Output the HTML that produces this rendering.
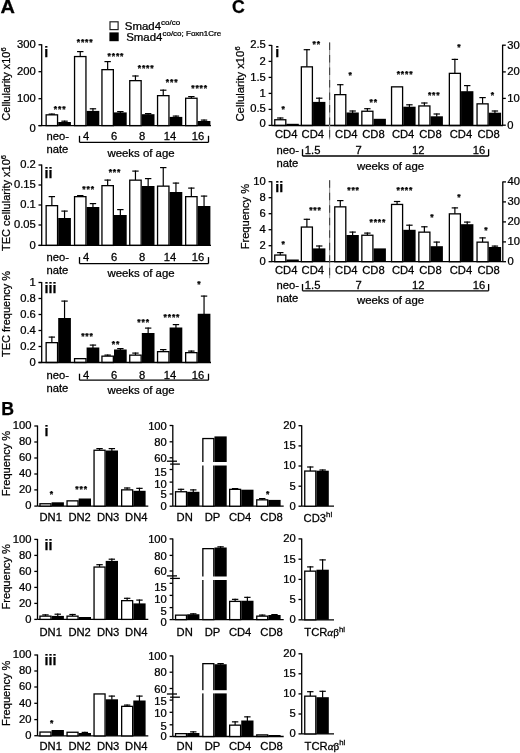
<!DOCTYPE html>
<html><head><meta charset="utf-8"><style>
html,body{margin:0;padding:0;background:#fff;}
svg{display:block;}
text{font-family:"Liberation Sans", Arial, sans-serif;fill:#000;stroke:#000;stroke-width:0.25px;}
</style></head><body>
<svg width="520" height="753" viewBox="0 0 520 753">
<rect width="520" height="753" fill="#fff"/>
<text transform="translate(0.50,12.70) scale(1.13,1)" font-size="17.7" font-weight="bold" >A</text>
<rect x="110.0" y="21.8" width="8.1" height="7.8" fill="#fff" stroke="#222" stroke-width="1.2"/>
<rect x="109.4" y="32.4" width="9.3" height="8.8" fill="#000"/>
<text transform="translate(124.80,30.20) scale(1.1,1)" font-size="10.4" >Smad4<tspan font-size="7.3" dy="-5">co/co</tspan></text>
<text transform="translate(126.20,40.70) scale(1.1,1)" font-size="10.4" >Smad4<tspan font-size="7.3" dy="-5">co/co; Foxn1Cre</tspan></text>
<line x1="41.70" y1="44.25" x2="41.70" y2="125.60" stroke="#000" stroke-width="1.3" />
<line x1="38.50" y1="44.75" x2="41.70" y2="44.75" stroke="#000" stroke-width="1.3" />
<text transform="translate(35.75,47.55) scale(1.1,1)" font-size="10.2" text-anchor="end" >300</text>
<line x1="38.50" y1="71.70" x2="41.70" y2="71.70" stroke="#000" stroke-width="1.3" />
<text transform="translate(35.75,75.00) scale(1.1,1)" font-size="10.2" text-anchor="end" >200</text>
<line x1="38.50" y1="98.70" x2="41.70" y2="98.70" stroke="#000" stroke-width="1.3" />
<text transform="translate(35.75,102.00) scale(1.1,1)" font-size="10.2" text-anchor="end" >100</text>
<line x1="38.50" y1="125.60" x2="41.70" y2="125.60" stroke="#000" stroke-width="1.3" />
<text transform="translate(35.75,131.65) scale(1.1,1)" font-size="10.2" text-anchor="end" >0</text>
<text x="44.30" y="56.50" font-size="14.3" font-weight="bold" >i</text>
<text transform="translate(9.5,84) rotate(-90)" font-size="11" text-anchor="middle">Cellularity x10<tspan font-size="7.5" dy="-4">6</tspan></text>
<rect x="46.15" y="114.85" width="11.40" height="10.75" fill="#fff" stroke="#000" stroke-width="1.3"/>
<line x1="51.85" y1="113.50" x2="51.85" y2="114.70" stroke="#000" stroke-width="1.2" />
<line x1="48.65" y1="114.10" x2="55.05" y2="114.10" stroke="#000" stroke-width="1.2" />
<rect x="58.20" y="122.00" width="12.70" height="3.60" fill="#000"/>
<line x1="64.55" y1="120.60" x2="64.55" y2="122.50" stroke="#000" stroke-width="1.2" />
<line x1="61.35" y1="121.20" x2="67.75" y2="121.20" stroke="#000" stroke-width="1.2" />
<rect x="74.55" y="56.55" width="11.40" height="69.05" fill="#fff" stroke="#000" stroke-width="1.3"/>
<line x1="80.25" y1="51.00" x2="80.25" y2="56.40" stroke="#000" stroke-width="1.2" />
<line x1="77.05" y1="51.60" x2="83.45" y2="51.60" stroke="#000" stroke-width="1.2" />
<rect x="86.60" y="110.90" width="12.70" height="14.70" fill="#000"/>
<line x1="92.95" y1="108.20" x2="92.95" y2="111.40" stroke="#000" stroke-width="1.2" />
<line x1="89.75" y1="108.80" x2="96.15" y2="108.80" stroke="#000" stroke-width="1.2" />
<rect x="101.95" y="69.65" width="11.40" height="55.95" fill="#fff" stroke="#000" stroke-width="1.3"/>
<line x1="107.65" y1="61.00" x2="107.65" y2="69.50" stroke="#000" stroke-width="1.2" />
<line x1="104.45" y1="61.60" x2="110.85" y2="61.60" stroke="#000" stroke-width="1.2" />
<rect x="114.00" y="112.40" width="12.70" height="13.20" fill="#000"/>
<line x1="120.35" y1="111.00" x2="120.35" y2="112.90" stroke="#000" stroke-width="1.2" />
<line x1="117.15" y1="111.60" x2="123.55" y2="111.60" stroke="#000" stroke-width="1.2" />
<rect x="129.75" y="80.65" width="11.40" height="44.95" fill="#fff" stroke="#000" stroke-width="1.3"/>
<line x1="135.45" y1="75.40" x2="135.45" y2="80.50" stroke="#000" stroke-width="1.2" />
<line x1="132.25" y1="76.00" x2="138.65" y2="76.00" stroke="#000" stroke-width="1.2" />
<rect x="141.80" y="114.20" width="12.70" height="11.40" fill="#000"/>
<line x1="148.15" y1="113.00" x2="148.15" y2="114.70" stroke="#000" stroke-width="1.2" />
<line x1="144.95" y1="113.60" x2="151.35" y2="113.60" stroke="#000" stroke-width="1.2" />
<rect x="157.55" y="95.65" width="11.40" height="29.95" fill="#fff" stroke="#000" stroke-width="1.3"/>
<line x1="163.25" y1="89.60" x2="163.25" y2="95.50" stroke="#000" stroke-width="1.2" />
<line x1="160.05" y1="90.20" x2="166.45" y2="90.20" stroke="#000" stroke-width="1.2" />
<rect x="169.60" y="116.90" width="12.70" height="8.70" fill="#000"/>
<line x1="175.95" y1="115.50" x2="175.95" y2="117.40" stroke="#000" stroke-width="1.2" />
<line x1="172.75" y1="116.10" x2="179.15" y2="116.10" stroke="#000" stroke-width="1.2" />
<rect x="185.65" y="98.25" width="11.40" height="27.35" fill="#fff" stroke="#000" stroke-width="1.3"/>
<line x1="191.35" y1="96.00" x2="191.35" y2="98.10" stroke="#000" stroke-width="1.2" />
<line x1="188.15" y1="96.60" x2="194.55" y2="96.60" stroke="#000" stroke-width="1.2" />
<rect x="197.70" y="121.00" width="12.70" height="4.60" fill="#000"/>
<line x1="204.05" y1="119.50" x2="204.05" y2="121.50" stroke="#000" stroke-width="1.2" />
<line x1="200.85" y1="120.10" x2="207.25" y2="120.10" stroke="#000" stroke-width="1.2" />
<text x="60.13" y="111.51" font-size="8.6" text-anchor="middle" font-weight="bold" letter-spacing="0.85">***</text>
<text x="85.13" y="45.41" font-size="8.6" text-anchor="middle" font-weight="bold" letter-spacing="0.85">****</text>
<text x="115.93" y="59.31" font-size="8.6" text-anchor="middle" font-weight="bold" letter-spacing="0.85">****</text>
<text x="146.13" y="71.21" font-size="8.6" text-anchor="middle" font-weight="bold" letter-spacing="0.85">****</text>
<text x="172.13" y="84.71" font-size="8.6" text-anchor="middle" font-weight="bold" letter-spacing="0.85">***</text>
<text x="199.63" y="91.21" font-size="8.6" text-anchor="middle" font-weight="bold" letter-spacing="0.85">****</text>
<line x1="38.50" y1="125.60" x2="211.00" y2="125.60" stroke="#000" stroke-width="1.3" />
<text transform="translate(46.50,139.50) scale(1.08,1)" font-size="10.4" >neo-</text>
<text transform="translate(46.50,152.50) scale(1.08,1)" font-size="10.4" >nate</text>
<text transform="translate(86.00,139.50) scale(1.08,1)" font-size="10.4" text-anchor="middle" >4</text>
<text transform="translate(114.00,139.50) scale(1.08,1)" font-size="10.4" text-anchor="middle" >6</text>
<text transform="translate(142.00,139.50) scale(1.08,1)" font-size="10.4" text-anchor="middle" >8</text>
<text transform="translate(170.00,139.50) scale(1.08,1)" font-size="10.4" text-anchor="middle" >14</text>
<text transform="translate(198.00,139.50) scale(1.08,1)" font-size="10.4" text-anchor="middle" >16</text>
<line x1="79.50" y1="135.80" x2="79.50" y2="142.30" stroke="#000" stroke-width="1.3" />
<line x1="79.50" y1="142.30" x2="208.50" y2="142.30" stroke="#000" stroke-width="1.3" />
<line x1="208.50" y1="135.80" x2="208.50" y2="142.30" stroke="#000" stroke-width="1.3" />
<text transform="translate(141.00,156.70) scale(1.12,1)" font-size="10.2" text-anchor="middle" >weeks of age</text>
<line x1="41.70" y1="164.50" x2="41.70" y2="245.40" stroke="#000" stroke-width="1.3" />
<line x1="38.50" y1="165.00" x2="41.70" y2="165.00" stroke="#000" stroke-width="1.3" />
<text transform="translate(35.75,168.30) scale(1.1,1)" font-size="10.2" text-anchor="end" >0.2</text>
<line x1="38.50" y1="185.00" x2="41.70" y2="185.00" stroke="#000" stroke-width="1.3" />
<text transform="translate(35.75,188.30) scale(1.1,1)" font-size="10.2" text-anchor="end" >0.15</text>
<line x1="38.50" y1="205.00" x2="41.70" y2="205.00" stroke="#000" stroke-width="1.3" />
<text transform="translate(35.75,208.30) scale(1.1,1)" font-size="10.2" text-anchor="end" >0.1</text>
<line x1="38.50" y1="225.00" x2="41.70" y2="225.00" stroke="#000" stroke-width="1.3" />
<text transform="translate(35.75,228.30) scale(1.1,1)" font-size="10.2" text-anchor="end" >0.05</text>
<line x1="38.50" y1="245.40" x2="41.70" y2="245.40" stroke="#000" stroke-width="1.3" />
<text transform="translate(35.75,249.45) scale(1.1,1)" font-size="10.2" text-anchor="end" >0</text>
<text x="44.50" y="177.90" font-size="14.3" font-weight="bold" >ii</text>
<text transform="translate(9.5,203) rotate(-90)" font-size="11" text-anchor="middle">TEC cellularity x10<tspan font-size="7.5" dy="-4">6</tspan></text>
<rect x="46.15" y="205.65" width="11.40" height="39.75" fill="#fff" stroke="#000" stroke-width="1.3"/>
<line x1="51.85" y1="196.00" x2="51.85" y2="205.50" stroke="#000" stroke-width="1.2" />
<line x1="48.65" y1="196.60" x2="55.05" y2="196.60" stroke="#000" stroke-width="1.2" />
<rect x="58.20" y="218.00" width="12.70" height="27.40" fill="#000"/>
<line x1="64.55" y1="210.50" x2="64.55" y2="218.50" stroke="#000" stroke-width="1.2" />
<line x1="61.35" y1="211.10" x2="67.75" y2="211.10" stroke="#000" stroke-width="1.2" />
<rect x="74.55" y="196.65" width="11.40" height="48.75" fill="#fff" stroke="#000" stroke-width="1.3"/>
<line x1="80.25" y1="195.00" x2="80.25" y2="196.50" stroke="#000" stroke-width="1.2" />
<line x1="77.05" y1="195.60" x2="83.45" y2="195.60" stroke="#000" stroke-width="1.2" />
<rect x="86.60" y="207.00" width="12.70" height="38.40" fill="#000"/>
<line x1="92.95" y1="203.00" x2="92.95" y2="207.50" stroke="#000" stroke-width="1.2" />
<line x1="89.75" y1="203.60" x2="96.15" y2="203.60" stroke="#000" stroke-width="1.2" />
<rect x="101.95" y="185.65" width="11.40" height="59.75" fill="#fff" stroke="#000" stroke-width="1.3"/>
<line x1="107.65" y1="179.50" x2="107.65" y2="185.50" stroke="#000" stroke-width="1.2" />
<line x1="104.45" y1="180.10" x2="110.85" y2="180.10" stroke="#000" stroke-width="1.2" />
<rect x="114.00" y="215.00" width="12.70" height="30.40" fill="#000"/>
<line x1="120.35" y1="209.00" x2="120.35" y2="215.50" stroke="#000" stroke-width="1.2" />
<line x1="117.15" y1="209.60" x2="123.55" y2="209.60" stroke="#000" stroke-width="1.2" />
<rect x="129.75" y="180.15" width="11.40" height="65.25" fill="#fff" stroke="#000" stroke-width="1.3"/>
<line x1="135.45" y1="170.50" x2="135.45" y2="180.00" stroke="#000" stroke-width="1.2" />
<line x1="132.25" y1="171.10" x2="138.65" y2="171.10" stroke="#000" stroke-width="1.2" />
<rect x="141.80" y="186.00" width="12.70" height="59.40" fill="#000"/>
<line x1="148.15" y1="178.00" x2="148.15" y2="186.50" stroke="#000" stroke-width="1.2" />
<line x1="144.95" y1="178.60" x2="151.35" y2="178.60" stroke="#000" stroke-width="1.2" />
<rect x="157.55" y="186.15" width="11.40" height="59.25" fill="#fff" stroke="#000" stroke-width="1.3"/>
<line x1="163.25" y1="167.00" x2="163.25" y2="186.00" stroke="#000" stroke-width="1.2" />
<line x1="160.05" y1="167.60" x2="166.45" y2="167.60" stroke="#000" stroke-width="1.2" />
<rect x="169.60" y="192.00" width="12.70" height="53.40" fill="#000"/>
<line x1="175.95" y1="182.50" x2="175.95" y2="192.50" stroke="#000" stroke-width="1.2" />
<line x1="172.75" y1="183.10" x2="179.15" y2="183.10" stroke="#000" stroke-width="1.2" />
<rect x="185.65" y="196.65" width="11.40" height="48.75" fill="#fff" stroke="#000" stroke-width="1.3"/>
<line x1="191.35" y1="187.50" x2="191.35" y2="196.50" stroke="#000" stroke-width="1.2" />
<line x1="188.15" y1="188.10" x2="194.55" y2="188.10" stroke="#000" stroke-width="1.2" />
<rect x="197.70" y="206.00" width="12.70" height="39.40" fill="#000"/>
<line x1="204.05" y1="195.50" x2="204.05" y2="206.50" stroke="#000" stroke-width="1.2" />
<line x1="200.85" y1="196.10" x2="207.25" y2="196.10" stroke="#000" stroke-width="1.2" />
<text x="88.63" y="191.71" font-size="8.6" text-anchor="middle" font-weight="bold" letter-spacing="0.85">***</text>
<text x="114.93" y="175.21" font-size="8.6" text-anchor="middle" font-weight="bold" letter-spacing="0.85">***</text>
<line x1="38.50" y1="245.40" x2="211.00" y2="245.40" stroke="#000" stroke-width="1.3" />
<text transform="translate(46.50,260.80) scale(1.08,1)" font-size="10.4" >neo-</text>
<text transform="translate(46.50,273.80) scale(1.08,1)" font-size="10.4" >nate</text>
<text transform="translate(86.00,260.80) scale(1.08,1)" font-size="10.4" text-anchor="middle" >4</text>
<text transform="translate(114.00,260.80) scale(1.08,1)" font-size="10.4" text-anchor="middle" >6</text>
<text transform="translate(142.00,260.80) scale(1.08,1)" font-size="10.4" text-anchor="middle" >8</text>
<text transform="translate(170.00,260.80) scale(1.08,1)" font-size="10.4" text-anchor="middle" >14</text>
<text transform="translate(198.00,260.80) scale(1.08,1)" font-size="10.4" text-anchor="middle" >16</text>
<line x1="79.50" y1="257.10" x2="79.50" y2="263.60" stroke="#000" stroke-width="1.3" />
<line x1="79.50" y1="263.60" x2="208.50" y2="263.60" stroke="#000" stroke-width="1.3" />
<line x1="208.50" y1="257.10" x2="208.50" y2="263.60" stroke="#000" stroke-width="1.3" />
<text transform="translate(141.00,277.20) scale(1.12,1)" font-size="10.2" text-anchor="middle" >weeks of age</text>
<line x1="41.70" y1="282.00" x2="41.70" y2="362.50" stroke="#000" stroke-width="1.3" />
<line x1="38.50" y1="282.50" x2="41.70" y2="282.50" stroke="#000" stroke-width="1.3" />
<text transform="translate(35.75,285.80) scale(1.1,1)" font-size="10.2" text-anchor="end" >1</text>
<line x1="38.50" y1="298.50" x2="41.70" y2="298.50" stroke="#000" stroke-width="1.3" />
<text transform="translate(35.75,301.80) scale(1.1,1)" font-size="10.2" text-anchor="end" >0.8</text>
<line x1="38.50" y1="314.50" x2="41.70" y2="314.50" stroke="#000" stroke-width="1.3" />
<text transform="translate(35.75,317.80) scale(1.1,1)" font-size="10.2" text-anchor="end" >0.6</text>
<line x1="38.50" y1="330.50" x2="41.70" y2="330.50" stroke="#000" stroke-width="1.3" />
<text transform="translate(35.75,333.80) scale(1.1,1)" font-size="10.2" text-anchor="end" >0.4</text>
<line x1="38.50" y1="346.50" x2="41.70" y2="346.50" stroke="#000" stroke-width="1.3" />
<text transform="translate(35.75,349.80) scale(1.1,1)" font-size="10.2" text-anchor="end" >0.2</text>
<line x1="38.50" y1="362.50" x2="41.70" y2="362.50" stroke="#000" stroke-width="1.3" />
<text transform="translate(35.75,366.45) scale(1.1,1)" font-size="10.2" text-anchor="end" >0</text>
<text x="44.50" y="292.70" font-size="14.3" font-weight="bold" >iii</text>
<text transform="translate(9.5,314) rotate(-90)" font-size="11" text-anchor="middle">TEC frequency %</text>
<rect x="46.15" y="342.65" width="11.40" height="19.85" fill="#fff" stroke="#000" stroke-width="1.3"/>
<line x1="51.85" y1="336.50" x2="51.85" y2="342.50" stroke="#000" stroke-width="1.2" />
<line x1="48.65" y1="337.10" x2="55.05" y2="337.10" stroke="#000" stroke-width="1.2" />
<rect x="58.20" y="318.00" width="12.70" height="44.50" fill="#000"/>
<line x1="64.55" y1="300.50" x2="64.55" y2="318.50" stroke="#000" stroke-width="1.2" />
<line x1="61.35" y1="301.10" x2="67.75" y2="301.10" stroke="#000" stroke-width="1.2" />
<rect x="74.55" y="358.65" width="11.40" height="3.85" fill="#fff" stroke="#000" stroke-width="1.3"/>
<rect x="86.60" y="347.50" width="12.70" height="15.00" fill="#000"/>
<line x1="92.95" y1="344.50" x2="92.95" y2="348.00" stroke="#000" stroke-width="1.2" />
<line x1="89.75" y1="345.10" x2="96.15" y2="345.10" stroke="#000" stroke-width="1.2" />
<rect x="101.95" y="356.15" width="11.40" height="6.35" fill="#fff" stroke="#000" stroke-width="1.3"/>
<line x1="107.65" y1="354.50" x2="107.65" y2="356.00" stroke="#000" stroke-width="1.2" />
<line x1="104.45" y1="355.10" x2="110.85" y2="355.10" stroke="#000" stroke-width="1.2" />
<rect x="114.00" y="349.50" width="12.70" height="13.00" fill="#000"/>
<line x1="120.35" y1="348.00" x2="120.35" y2="350.00" stroke="#000" stroke-width="1.2" />
<line x1="117.15" y1="348.60" x2="123.55" y2="348.60" stroke="#000" stroke-width="1.2" />
<rect x="129.75" y="355.15" width="11.40" height="7.35" fill="#fff" stroke="#000" stroke-width="1.3"/>
<line x1="135.45" y1="352.50" x2="135.45" y2="355.00" stroke="#000" stroke-width="1.2" />
<line x1="132.25" y1="353.10" x2="138.65" y2="353.10" stroke="#000" stroke-width="1.2" />
<rect x="141.80" y="333.00" width="12.70" height="29.50" fill="#000"/>
<line x1="148.15" y1="327.50" x2="148.15" y2="333.50" stroke="#000" stroke-width="1.2" />
<line x1="144.95" y1="328.10" x2="151.35" y2="328.10" stroke="#000" stroke-width="1.2" />
<rect x="157.55" y="351.65" width="11.40" height="10.85" fill="#fff" stroke="#000" stroke-width="1.3"/>
<line x1="163.25" y1="349.00" x2="163.25" y2="351.50" stroke="#000" stroke-width="1.2" />
<line x1="160.05" y1="349.60" x2="166.45" y2="349.60" stroke="#000" stroke-width="1.2" />
<rect x="169.60" y="327.50" width="12.70" height="35.00" fill="#000"/>
<line x1="175.95" y1="324.00" x2="175.95" y2="328.00" stroke="#000" stroke-width="1.2" />
<line x1="172.75" y1="324.60" x2="179.15" y2="324.60" stroke="#000" stroke-width="1.2" />
<rect x="185.65" y="352.65" width="11.40" height="9.85" fill="#fff" stroke="#000" stroke-width="1.3"/>
<line x1="191.35" y1="350.50" x2="191.35" y2="352.50" stroke="#000" stroke-width="1.2" />
<line x1="188.15" y1="351.10" x2="194.55" y2="351.10" stroke="#000" stroke-width="1.2" />
<rect x="197.70" y="313.75" width="12.70" height="48.75" fill="#000"/>
<line x1="204.05" y1="295.50" x2="204.05" y2="314.25" stroke="#000" stroke-width="1.2" />
<line x1="200.85" y1="296.10" x2="207.25" y2="296.10" stroke="#000" stroke-width="1.2" />
<text x="87.43" y="339.21" font-size="8.6" text-anchor="middle" font-weight="bold" letter-spacing="0.85">***</text>
<text x="115.93" y="346.71" font-size="8.6" text-anchor="middle" font-weight="bold" letter-spacing="0.85">**</text>
<text x="143.63" y="325.21" font-size="8.6" text-anchor="middle" font-weight="bold" letter-spacing="0.85">***</text>
<text x="171.93" y="320.21" font-size="8.6" text-anchor="middle" font-weight="bold" letter-spacing="0.85">****</text>
<text x="199.43" y="286.71" font-size="8.6" text-anchor="middle" font-weight="bold" letter-spacing="0.85">*</text>
<line x1="38.50" y1="362.50" x2="211.00" y2="362.50" stroke="#000" stroke-width="1.3" />
<text transform="translate(46.50,378.50) scale(1.08,1)" font-size="10.4" >neo-</text>
<text transform="translate(46.50,391.50) scale(1.08,1)" font-size="10.4" >nate</text>
<text transform="translate(86.00,378.50) scale(1.08,1)" font-size="10.4" text-anchor="middle" >4</text>
<text transform="translate(114.00,378.50) scale(1.08,1)" font-size="10.4" text-anchor="middle" >6</text>
<text transform="translate(142.00,378.50) scale(1.08,1)" font-size="10.4" text-anchor="middle" >8</text>
<text transform="translate(170.00,378.50) scale(1.08,1)" font-size="10.4" text-anchor="middle" >14</text>
<text transform="translate(198.00,378.50) scale(1.08,1)" font-size="10.4" text-anchor="middle" >16</text>
<line x1="79.50" y1="373.70" x2="79.50" y2="380.20" stroke="#000" stroke-width="1.3" />
<line x1="79.50" y1="380.20" x2="208.50" y2="380.20" stroke="#000" stroke-width="1.3" />
<line x1="208.50" y1="373.70" x2="208.50" y2="380.20" stroke="#000" stroke-width="1.3" />
<text transform="translate(141.00,394.00) scale(1.12,1)" font-size="10.2" text-anchor="middle" >weeks of age</text>
<text x="1.30" y="414.70" font-size="17.7" font-weight="bold" >B</text>
<line x1="37.50" y1="425.50" x2="37.50" y2="506.10" stroke="#000" stroke-width="1.3" />
<line x1="34.30" y1="426.00" x2="37.50" y2="426.00" stroke="#000" stroke-width="1.3" />
<text transform="translate(31.55,429.30) scale(1.1,1)" font-size="10.2" text-anchor="end" >100</text>
<line x1="34.30" y1="442.00" x2="37.50" y2="442.00" stroke="#000" stroke-width="1.3" />
<text transform="translate(31.55,445.30) scale(1.1,1)" font-size="10.2" text-anchor="end" >80</text>
<line x1="34.30" y1="458.00" x2="37.50" y2="458.00" stroke="#000" stroke-width="1.3" />
<text transform="translate(31.55,461.30) scale(1.1,1)" font-size="10.2" text-anchor="end" >60</text>
<line x1="34.30" y1="474.00" x2="37.50" y2="474.00" stroke="#000" stroke-width="1.3" />
<text transform="translate(31.55,477.30) scale(1.1,1)" font-size="10.2" text-anchor="end" >40</text>
<line x1="34.30" y1="489.90" x2="37.50" y2="489.90" stroke="#000" stroke-width="1.3" />
<text transform="translate(31.55,493.20) scale(1.1,1)" font-size="10.2" text-anchor="end" >20</text>
<line x1="34.30" y1="506.10" x2="37.50" y2="506.10" stroke="#000" stroke-width="1.3" />
<text transform="translate(31.55,509.40) scale(1.1,1)" font-size="10.2" text-anchor="end" >0</text>
<line x1="37.50" y1="506.10" x2="148.30" y2="506.10" stroke="#000" stroke-width="1.3" />
<rect x="39.95" y="503.75" width="11.00" height="2.35" fill="#fff" stroke="#000" stroke-width="1.3"/>
<rect x="51.60" y="502.30" width="12.30" height="3.80" fill="#000"/>
<rect x="67.05" y="500.85" width="11.00" height="5.25" fill="#fff" stroke="#000" stroke-width="1.3"/>
<rect x="78.70" y="498.50" width="12.30" height="7.60" fill="#000"/>
<rect x="94.05" y="450.25" width="11.00" height="55.85" fill="#fff" stroke="#000" stroke-width="1.3"/>
<line x1="99.55" y1="448.00" x2="99.55" y2="450.10" stroke="#000" stroke-width="1.2" />
<line x1="96.35" y1="448.60" x2="102.75" y2="448.60" stroke="#000" stroke-width="1.2" />
<rect x="105.70" y="450.50" width="12.30" height="55.60" fill="#000"/>
<line x1="111.85" y1="448.00" x2="111.85" y2="451.00" stroke="#000" stroke-width="1.2" />
<line x1="108.65" y1="448.60" x2="115.05" y2="448.60" stroke="#000" stroke-width="1.2" />
<rect x="121.65" y="489.85" width="11.00" height="16.25" fill="#fff" stroke="#000" stroke-width="1.3"/>
<line x1="127.15" y1="487.40" x2="127.15" y2="489.70" stroke="#000" stroke-width="1.2" />
<line x1="123.95" y1="488.00" x2="130.35" y2="488.00" stroke="#000" stroke-width="1.2" />
<rect x="133.30" y="490.80" width="12.30" height="15.30" fill="#000"/>
<line x1="139.45" y1="487.75" x2="139.45" y2="491.30" stroke="#000" stroke-width="1.2" />
<line x1="136.25" y1="488.35" x2="142.65" y2="488.35" stroke="#000" stroke-width="1.2" />
<text transform="translate(50.70,521.30) scale(1.08,1)" font-size="10.4" text-anchor="middle" >DN1</text>
<text transform="translate(79.60,521.30) scale(1.08,1)" font-size="10.4" text-anchor="middle" >DN2</text>
<text transform="translate(108.10,521.30) scale(1.08,1)" font-size="10.4" text-anchor="middle" >DN3</text>
<text transform="translate(136.30,521.30) scale(1.08,1)" font-size="10.4" text-anchor="middle" >DN4</text>
<text x="44.50" y="435.50" font-size="14.3" font-weight="bold" >i</text>
<text transform="translate(9.8,463.5) rotate(-90)" font-size="11.1" text-anchor="middle">Frequency %</text>
<text x="51.93" y="497.21" font-size="8.6" text-anchor="middle" font-weight="bold" letter-spacing="0.85">*</text>
<text x="81.63" y="492.01" font-size="8.6" text-anchor="middle" font-weight="bold" letter-spacing="0.85">***</text>
<line x1="172.80" y1="425.00" x2="172.80" y2="506.20" stroke="#000" stroke-width="1.3" />
<line x1="169.60" y1="425.50" x2="172.80" y2="425.50" stroke="#000" stroke-width="1.3" />
<text transform="translate(166.85,429.50) scale(1.1,1)" font-size="10.2" text-anchor="end" >100</text>
<line x1="169.60" y1="441.80" x2="172.80" y2="441.80" stroke="#000" stroke-width="1.3" />
<text transform="translate(166.85,445.90) scale(1.1,1)" font-size="10.2" text-anchor="end" >80</text>
<line x1="169.60" y1="457.80" x2="172.80" y2="457.80" stroke="#000" stroke-width="1.3" />
<text transform="translate(166.85,462.20) scale(1.1,1)" font-size="10.2" text-anchor="end" >60</text>
<line x1="169.60" y1="469.50" x2="172.80" y2="469.50" stroke="#000" stroke-width="1.3" />
<text transform="translate(166.85,475.90) scale(1.1,1)" font-size="10.2" text-anchor="end" >15</text>
<line x1="169.60" y1="482.10" x2="172.80" y2="482.10" stroke="#000" stroke-width="1.3" />
<text transform="translate(166.85,488.10) scale(1.1,1)" font-size="10.2" text-anchor="end" >10</text>
<line x1="169.60" y1="494.00" x2="172.80" y2="494.00" stroke="#000" stroke-width="1.3" />
<text transform="translate(166.85,498.30) scale(1.1,1)" font-size="10.2" text-anchor="end" >5</text>
<line x1="169.60" y1="506.20" x2="172.80" y2="506.20" stroke="#000" stroke-width="1.3" />
<text transform="translate(166.85,510.10) scale(1.1,1)" font-size="10.2" text-anchor="end" >0</text>
<line x1="166.90" y1="461.20" x2="177.00" y2="461.20" stroke="#000" stroke-width="1.3" />
<line x1="170.10" y1="464.10" x2="179.90" y2="464.10" stroke="#000" stroke-width="1.3" />
<line x1="172.80" y1="506.20" x2="283.70" y2="506.20" stroke="#000" stroke-width="1.3" />
<rect x="175.55" y="491.75" width="10.95" height="14.45" fill="#fff" stroke="#000" stroke-width="1.3"/>
<line x1="181.03" y1="488.70" x2="181.03" y2="491.60" stroke="#000" stroke-width="1.2" />
<line x1="177.83" y1="489.30" x2="184.22" y2="489.30" stroke="#000" stroke-width="1.2" />
<rect x="187.15" y="491.80" width="12.25" height="14.40" fill="#000"/>
<line x1="193.28" y1="489.30" x2="193.28" y2="492.30" stroke="#000" stroke-width="1.2" />
<line x1="190.08" y1="489.90" x2="196.47" y2="489.90" stroke="#000" stroke-width="1.2" />
<rect x="202.85" y="438.55" width="10.95" height="67.65" fill="#fff" stroke="#000" stroke-width="1.3"/>
<rect x="214.45" y="436.40" width="12.25" height="69.80" fill="#000"/>
<rect x="229.65" y="489.35" width="10.95" height="16.85" fill="#fff" stroke="#000" stroke-width="1.3"/>
<line x1="235.12" y1="488.00" x2="235.12" y2="489.20" stroke="#000" stroke-width="1.2" />
<line x1="231.93" y1="488.60" x2="238.32" y2="488.60" stroke="#000" stroke-width="1.2" />
<rect x="241.25" y="489.70" width="12.25" height="16.50" fill="#000"/>
<rect x="256.75" y="499.85" width="10.95" height="6.35" fill="#fff" stroke="#000" stroke-width="1.3"/>
<line x1="262.23" y1="498.00" x2="262.23" y2="499.70" stroke="#000" stroke-width="1.2" />
<line x1="259.03" y1="498.60" x2="265.43" y2="498.60" stroke="#000" stroke-width="1.2" />
<rect x="268.35" y="499.90" width="12.25" height="6.30" fill="#000"/>
<rect x="201" y="462.00" width="27" height="3.50" fill="#fff"/>
<text transform="translate(184.70,521.30) scale(1.08,1)" font-size="10.4" text-anchor="middle" >DN</text>
<text transform="translate(212.50,521.30) scale(1.08,1)" font-size="10.4" text-anchor="middle" >DP</text>
<text transform="translate(240.10,521.30) scale(1.08,1)" font-size="10.4" text-anchor="middle" >CD4</text>
<text transform="translate(271.50,521.30) scale(1.08,1)" font-size="10.4" text-anchor="middle" >CD8</text>
<text x="268.13" y="497.31" font-size="8.6" text-anchor="middle" font-weight="bold" letter-spacing="0.85">*</text>
<line x1="301.70" y1="425.20" x2="301.70" y2="506.20" stroke="#000" stroke-width="1.3" />
<line x1="298.50" y1="425.70" x2="301.70" y2="425.70" stroke="#000" stroke-width="1.3" />
<text transform="translate(295.75,429.00) scale(1.1,1)" font-size="10.2" text-anchor="end" >20</text>
<line x1="298.50" y1="445.90" x2="301.70" y2="445.90" stroke="#000" stroke-width="1.3" />
<text transform="translate(295.75,449.20) scale(1.1,1)" font-size="10.2" text-anchor="end" >15</text>
<line x1="298.50" y1="466.00" x2="301.70" y2="466.00" stroke="#000" stroke-width="1.3" />
<text transform="translate(295.75,469.30) scale(1.1,1)" font-size="10.2" text-anchor="end" >10</text>
<line x1="298.50" y1="486.20" x2="301.70" y2="486.20" stroke="#000" stroke-width="1.3" />
<text transform="translate(295.75,489.50) scale(1.1,1)" font-size="10.2" text-anchor="end" >5</text>
<line x1="298.50" y1="506.20" x2="301.70" y2="506.20" stroke="#000" stroke-width="1.3" />
<text transform="translate(295.75,509.50) scale(1.1,1)" font-size="10.2" text-anchor="end" >0</text>
<line x1="301.70" y1="506.20" x2="334.00" y2="506.20" stroke="#000" stroke-width="1.3" />
<rect x="304.75" y="471.05" width="11.05" height="35.15" fill="#fff" stroke="#000" stroke-width="1.3"/>
<line x1="310.28" y1="466.40" x2="310.28" y2="470.90" stroke="#000" stroke-width="1.2" />
<line x1="307.08" y1="467.00" x2="313.48" y2="467.00" stroke="#000" stroke-width="1.2" />
<rect x="316.45" y="470.70" width="12.35" height="35.50" fill="#000"/>
<line x1="322.62" y1="469.40" x2="322.62" y2="471.20" stroke="#000" stroke-width="1.2" />
<line x1="319.43" y1="470.00" x2="325.82" y2="470.00" stroke="#000" stroke-width="1.2" />
<text transform="translate(303.60,521.60) scale(1.08,1)" font-size="10.4" >CD3<tspan font-size="7.2" dy="-4.5">hi</tspan></text>
<line x1="37.50" y1="538.90" x2="37.50" y2="619.40" stroke="#000" stroke-width="1.3" />
<line x1="34.30" y1="539.40" x2="37.50" y2="539.40" stroke="#000" stroke-width="1.3" />
<text transform="translate(31.55,542.70) scale(1.1,1)" font-size="10.2" text-anchor="end" >100</text>
<line x1="34.30" y1="555.40" x2="37.50" y2="555.40" stroke="#000" stroke-width="1.3" />
<text transform="translate(31.55,558.70) scale(1.1,1)" font-size="10.2" text-anchor="end" >80</text>
<line x1="34.30" y1="571.40" x2="37.50" y2="571.40" stroke="#000" stroke-width="1.3" />
<text transform="translate(31.55,574.70) scale(1.1,1)" font-size="10.2" text-anchor="end" >60</text>
<line x1="34.30" y1="587.40" x2="37.50" y2="587.40" stroke="#000" stroke-width="1.3" />
<text transform="translate(31.55,590.70) scale(1.1,1)" font-size="10.2" text-anchor="end" >40</text>
<line x1="34.30" y1="603.40" x2="37.50" y2="603.40" stroke="#000" stroke-width="1.3" />
<text transform="translate(31.55,606.70) scale(1.1,1)" font-size="10.2" text-anchor="end" >20</text>
<line x1="34.30" y1="619.40" x2="37.50" y2="619.40" stroke="#000" stroke-width="1.3" />
<text transform="translate(31.55,622.70) scale(1.1,1)" font-size="10.2" text-anchor="end" >0</text>
<line x1="37.50" y1="619.40" x2="148.30" y2="619.40" stroke="#000" stroke-width="1.3" />
<rect x="39.95" y="616.15" width="11.00" height="3.25" fill="#fff" stroke="#000" stroke-width="1.3"/>
<line x1="45.45" y1="614.30" x2="45.45" y2="616.00" stroke="#000" stroke-width="1.2" />
<line x1="42.25" y1="614.90" x2="48.65" y2="614.90" stroke="#000" stroke-width="1.2" />
<rect x="51.60" y="615.90" width="12.30" height="3.50" fill="#000"/>
<line x1="57.75" y1="613.60" x2="57.75" y2="616.40" stroke="#000" stroke-width="1.2" />
<line x1="54.55" y1="614.20" x2="60.95" y2="614.20" stroke="#000" stroke-width="1.2" />
<rect x="67.05" y="616.15" width="11.00" height="3.25" fill="#fff" stroke="#000" stroke-width="1.3"/>
<line x1="72.55" y1="613.90" x2="72.55" y2="616.00" stroke="#000" stroke-width="1.2" />
<line x1="69.35" y1="614.50" x2="75.75" y2="614.50" stroke="#000" stroke-width="1.2" />
<rect x="78.70" y="617.00" width="12.30" height="2.40" fill="#000"/>
<rect x="94.05" y="567.05" width="11.00" height="52.35" fill="#fff" stroke="#000" stroke-width="1.3"/>
<line x1="99.55" y1="564.10" x2="99.55" y2="566.90" stroke="#000" stroke-width="1.2" />
<line x1="96.35" y1="564.70" x2="102.75" y2="564.70" stroke="#000" stroke-width="1.2" />
<rect x="105.70" y="560.90" width="12.30" height="58.50" fill="#000"/>
<line x1="111.85" y1="558.60" x2="111.85" y2="561.40" stroke="#000" stroke-width="1.2" />
<line x1="108.65" y1="559.20" x2="115.05" y2="559.20" stroke="#000" stroke-width="1.2" />
<rect x="121.65" y="600.65" width="11.00" height="18.75" fill="#fff" stroke="#000" stroke-width="1.3"/>
<line x1="127.15" y1="597.70" x2="127.15" y2="600.50" stroke="#000" stroke-width="1.2" />
<line x1="123.95" y1="598.30" x2="130.35" y2="598.30" stroke="#000" stroke-width="1.2" />
<rect x="133.30" y="603.40" width="12.30" height="16.00" fill="#000"/>
<line x1="139.45" y1="599.50" x2="139.45" y2="603.90" stroke="#000" stroke-width="1.2" />
<line x1="136.25" y1="600.10" x2="142.65" y2="600.10" stroke="#000" stroke-width="1.2" />
<text transform="translate(50.70,636.00) scale(1.08,1)" font-size="10.4" text-anchor="middle" >DN1</text>
<text transform="translate(79.60,636.00) scale(1.08,1)" font-size="10.4" text-anchor="middle" >DN2</text>
<text transform="translate(108.10,636.00) scale(1.08,1)" font-size="10.4" text-anchor="middle" >DN3</text>
<text transform="translate(136.30,636.00) scale(1.08,1)" font-size="10.4" text-anchor="middle" >DN4</text>
<text x="44.50" y="550.20" font-size="14.3" font-weight="bold" >ii</text>
<text transform="translate(9.8,576.8) rotate(-90)" font-size="11.1" text-anchor="middle">Frequency %</text>
<line x1="172.80" y1="538.40" x2="172.80" y2="619.60" stroke="#000" stroke-width="1.3" />
<line x1="169.60" y1="538.90" x2="172.80" y2="538.90" stroke="#000" stroke-width="1.3" />
<text transform="translate(166.85,543.20) scale(1.1,1)" font-size="10.2" text-anchor="end" >100</text>
<line x1="169.60" y1="555.40" x2="172.80" y2="555.40" stroke="#000" stroke-width="1.3" />
<text transform="translate(166.85,559.70) scale(1.1,1)" font-size="10.2" text-anchor="end" >80</text>
<line x1="169.60" y1="571.00" x2="172.80" y2="571.00" stroke="#000" stroke-width="1.3" />
<text transform="translate(166.85,575.10) scale(1.1,1)" font-size="10.2" text-anchor="end" >60</text>
<line x1="169.60" y1="583.30" x2="172.80" y2="583.30" stroke="#000" stroke-width="1.3" />
<text transform="translate(166.85,591.20) scale(1.1,1)" font-size="10.2" text-anchor="end" >15</text>
<line x1="169.60" y1="595.40" x2="172.80" y2="595.40" stroke="#000" stroke-width="1.3" />
<text transform="translate(166.85,603.00) scale(1.1,1)" font-size="10.2" text-anchor="end" >10</text>
<line x1="169.60" y1="607.60" x2="172.80" y2="607.60" stroke="#000" stroke-width="1.3" />
<text transform="translate(166.85,614.90) scale(1.1,1)" font-size="10.2" text-anchor="end" >5</text>
<line x1="169.60" y1="619.60" x2="172.80" y2="619.60" stroke="#000" stroke-width="1.3" />
<text transform="translate(166.85,625.70) scale(1.1,1)" font-size="10.2" text-anchor="end" >0</text>
<line x1="166.90" y1="575.90" x2="177.00" y2="575.90" stroke="#000" stroke-width="1.3" />
<line x1="170.10" y1="578.40" x2="179.90" y2="578.40" stroke="#000" stroke-width="1.3" />
<line x1="172.80" y1="619.60" x2="283.70" y2="619.60" stroke="#000" stroke-width="1.3" />
<rect x="175.55" y="615.15" width="10.95" height="4.45" fill="#fff" stroke="#000" stroke-width="1.3"/>
<rect x="187.15" y="614.25" width="12.25" height="5.35" fill="#000"/>
<line x1="193.28" y1="613.25" x2="193.28" y2="614.75" stroke="#000" stroke-width="1.2" />
<line x1="190.08" y1="613.85" x2="196.47" y2="613.85" stroke="#000" stroke-width="1.2" />
<rect x="202.85" y="548.65" width="10.95" height="70.95" fill="#fff" stroke="#000" stroke-width="1.3"/>
<rect x="214.45" y="547.50" width="12.25" height="72.10" fill="#000"/>
<line x1="220.57" y1="546.25" x2="220.57" y2="548.00" stroke="#000" stroke-width="1.2" />
<line x1="217.38" y1="546.85" x2="223.77" y2="546.85" stroke="#000" stroke-width="1.2" />
<rect x="229.65" y="601.40" width="10.95" height="18.20" fill="#fff" stroke="#000" stroke-width="1.3"/>
<line x1="235.12" y1="598.75" x2="235.12" y2="601.25" stroke="#000" stroke-width="1.2" />
<line x1="231.93" y1="599.35" x2="238.32" y2="599.35" stroke="#000" stroke-width="1.2" />
<rect x="241.25" y="600.75" width="12.25" height="18.85" fill="#000"/>
<line x1="247.38" y1="596.75" x2="247.38" y2="601.25" stroke="#000" stroke-width="1.2" />
<line x1="244.18" y1="597.35" x2="250.57" y2="597.35" stroke="#000" stroke-width="1.2" />
<rect x="256.75" y="616.15" width="10.95" height="3.45" fill="#fff" stroke="#000" stroke-width="1.3"/>
<line x1="262.23" y1="614.50" x2="262.23" y2="616.00" stroke="#000" stroke-width="1.2" />
<line x1="259.03" y1="615.10" x2="265.43" y2="615.10" stroke="#000" stroke-width="1.2" />
<rect x="268.35" y="615.00" width="12.25" height="4.60" fill="#000"/>
<line x1="274.48" y1="614.00" x2="274.48" y2="615.50" stroke="#000" stroke-width="1.2" />
<line x1="271.28" y1="614.60" x2="277.68" y2="614.60" stroke="#000" stroke-width="1.2" />
<rect x="201" y="576.50" width="27" height="3.50" fill="#fff"/>
<text transform="translate(184.70,636.00) scale(1.08,1)" font-size="10.4" text-anchor="middle" >DN</text>
<text transform="translate(212.50,636.00) scale(1.08,1)" font-size="10.4" text-anchor="middle" >DP</text>
<text transform="translate(240.10,636.00) scale(1.08,1)" font-size="10.4" text-anchor="middle" >CD4</text>
<text transform="translate(271.50,636.00) scale(1.08,1)" font-size="10.4" text-anchor="middle" >CD8</text>
<line x1="301.70" y1="538.40" x2="301.70" y2="619.80" stroke="#000" stroke-width="1.3" />
<line x1="298.50" y1="538.90" x2="301.70" y2="538.90" stroke="#000" stroke-width="1.3" />
<text transform="translate(295.75,542.20) scale(1.1,1)" font-size="10.2" text-anchor="end" >20</text>
<line x1="298.50" y1="559.20" x2="301.70" y2="559.20" stroke="#000" stroke-width="1.3" />
<text transform="translate(295.75,562.50) scale(1.1,1)" font-size="10.2" text-anchor="end" >15</text>
<line x1="298.50" y1="579.40" x2="301.70" y2="579.40" stroke="#000" stroke-width="1.3" />
<text transform="translate(295.75,582.70) scale(1.1,1)" font-size="10.2" text-anchor="end" >10</text>
<line x1="298.50" y1="599.50" x2="301.70" y2="599.50" stroke="#000" stroke-width="1.3" />
<text transform="translate(295.75,602.80) scale(1.1,1)" font-size="10.2" text-anchor="end" >5</text>
<line x1="298.50" y1="619.80" x2="301.70" y2="619.80" stroke="#000" stroke-width="1.3" />
<text transform="translate(295.75,623.10) scale(1.1,1)" font-size="10.2" text-anchor="end" >0</text>
<line x1="301.70" y1="619.80" x2="334.00" y2="619.80" stroke="#000" stroke-width="1.3" />
<rect x="304.75" y="571.15" width="11.05" height="48.65" fill="#fff" stroke="#000" stroke-width="1.3"/>
<line x1="310.28" y1="566.30" x2="310.28" y2="571.00" stroke="#000" stroke-width="1.2" />
<line x1="307.08" y1="566.90" x2="313.48" y2="566.90" stroke="#000" stroke-width="1.2" />
<rect x="316.45" y="569.70" width="12.35" height="50.10" fill="#000"/>
<line x1="322.62" y1="559.30" x2="322.62" y2="570.20" stroke="#000" stroke-width="1.2" />
<line x1="319.43" y1="559.90" x2="325.82" y2="559.90" stroke="#000" stroke-width="1.2" />
<text transform="translate(304.30,636.00) scale(1.08,1)" font-size="10.4" >TCR<tspan font-family="Liberation Serif" font-style="italic">&#945;</tspan><tspan font-family="Liberation Serif">&#946;</tspan><tspan font-size="7.2" dy="-4.5">hi</tspan></text>
<line x1="37.50" y1="654.50" x2="37.50" y2="735.90" stroke="#000" stroke-width="1.3" />
<line x1="34.30" y1="655.00" x2="37.50" y2="655.00" stroke="#000" stroke-width="1.3" />
<text transform="translate(31.55,658.30) scale(1.1,1)" font-size="10.2" text-anchor="end" >100</text>
<line x1="34.30" y1="671.00" x2="37.50" y2="671.00" stroke="#000" stroke-width="1.3" />
<text transform="translate(31.55,674.30) scale(1.1,1)" font-size="10.2" text-anchor="end" >80</text>
<line x1="34.30" y1="687.00" x2="37.50" y2="687.00" stroke="#000" stroke-width="1.3" />
<text transform="translate(31.55,690.30) scale(1.1,1)" font-size="10.2" text-anchor="end" >60</text>
<line x1="34.30" y1="703.30" x2="37.50" y2="703.30" stroke="#000" stroke-width="1.3" />
<text transform="translate(31.55,706.60) scale(1.1,1)" font-size="10.2" text-anchor="end" >40</text>
<line x1="34.30" y1="719.60" x2="37.50" y2="719.60" stroke="#000" stroke-width="1.3" />
<text transform="translate(31.55,722.90) scale(1.1,1)" font-size="10.2" text-anchor="end" >20</text>
<line x1="34.30" y1="735.70" x2="37.50" y2="735.70" stroke="#000" stroke-width="1.3" />
<text transform="translate(31.55,739.00) scale(1.1,1)" font-size="10.2" text-anchor="end" >0</text>
<line x1="37.50" y1="735.90" x2="148.30" y2="735.90" stroke="#000" stroke-width="1.3" />
<rect x="39.95" y="732.05" width="11.00" height="3.85" fill="#fff" stroke="#000" stroke-width="1.3"/>
<rect x="51.60" y="730.00" width="12.30" height="5.90" fill="#000"/>
<rect x="67.05" y="732.25" width="11.00" height="3.65" fill="#fff" stroke="#000" stroke-width="1.3"/>
<rect x="78.70" y="733.00" width="12.30" height="2.90" fill="#000"/>
<line x1="84.85" y1="731.80" x2="84.85" y2="733.50" stroke="#000" stroke-width="1.2" />
<line x1="81.65" y1="732.40" x2="88.05" y2="732.40" stroke="#000" stroke-width="1.2" />
<rect x="94.05" y="693.95" width="11.00" height="41.95" fill="#fff" stroke="#000" stroke-width="1.3"/>
<rect x="105.70" y="699.30" width="12.30" height="36.60" fill="#000"/>
<line x1="111.85" y1="695.50" x2="111.85" y2="699.80" stroke="#000" stroke-width="1.2" />
<line x1="108.65" y1="696.10" x2="115.05" y2="696.10" stroke="#000" stroke-width="1.2" />
<rect x="121.65" y="706.35" width="11.00" height="29.55" fill="#fff" stroke="#000" stroke-width="1.3"/>
<line x1="127.15" y1="704.50" x2="127.15" y2="706.20" stroke="#000" stroke-width="1.2" />
<line x1="123.95" y1="705.10" x2="130.35" y2="705.10" stroke="#000" stroke-width="1.2" />
<rect x="133.30" y="700.50" width="12.30" height="35.40" fill="#000"/>
<line x1="139.45" y1="695.50" x2="139.45" y2="701.00" stroke="#000" stroke-width="1.2" />
<line x1="136.25" y1="696.10" x2="142.65" y2="696.10" stroke="#000" stroke-width="1.2" />
<text transform="translate(50.70,749.50) scale(1.08,1)" font-size="10.4" text-anchor="middle" >DN1</text>
<text transform="translate(79.60,749.50) scale(1.08,1)" font-size="10.4" text-anchor="middle" >DN2</text>
<text transform="translate(108.10,749.50) scale(1.08,1)" font-size="10.4" text-anchor="middle" >DN3</text>
<text transform="translate(136.30,749.50) scale(1.08,1)" font-size="10.4" text-anchor="middle" >DN4</text>
<text x="44.50" y="665.00" font-size="14.3" font-weight="bold" >iii</text>
<text transform="translate(9.8,693.2) rotate(-90)" font-size="11.1" text-anchor="middle">Frequency %</text>
<text x="52.13" y="726.21" font-size="8.6" text-anchor="middle" font-weight="bold" letter-spacing="0.85">*</text>
<line x1="172.80" y1="655.40" x2="172.80" y2="736.50" stroke="#000" stroke-width="1.3" />
<line x1="169.60" y1="655.90" x2="172.80" y2="655.90" stroke="#000" stroke-width="1.3" />
<text transform="translate(166.85,659.80) scale(1.1,1)" font-size="10.2" text-anchor="end" >100</text>
<line x1="169.60" y1="672.20" x2="172.80" y2="672.20" stroke="#000" stroke-width="1.3" />
<text transform="translate(166.85,676.30) scale(1.1,1)" font-size="10.2" text-anchor="end" >80</text>
<line x1="169.60" y1="688.50" x2="172.80" y2="688.50" stroke="#000" stroke-width="1.3" />
<text transform="translate(166.85,692.80) scale(1.1,1)" font-size="10.2" text-anchor="end" >60</text>
<line x1="169.60" y1="700.10" x2="172.80" y2="700.10" stroke="#000" stroke-width="1.3" />
<text transform="translate(166.85,705.00) scale(1.1,1)" font-size="10.2" text-anchor="end" >15</text>
<line x1="169.60" y1="712.30" x2="172.80" y2="712.30" stroke="#000" stroke-width="1.3" />
<text transform="translate(166.85,717.00) scale(1.1,1)" font-size="10.2" text-anchor="end" >10</text>
<line x1="169.60" y1="724.80" x2="172.80" y2="724.80" stroke="#000" stroke-width="1.3" />
<text transform="translate(166.85,729.50) scale(1.1,1)" font-size="10.2" text-anchor="end" >5</text>
<line x1="169.60" y1="736.50" x2="172.80" y2="736.50" stroke="#000" stroke-width="1.3" />
<text transform="translate(166.85,739.90) scale(1.1,1)" font-size="10.2" text-anchor="end" >0</text>
<line x1="166.90" y1="694.00" x2="177.00" y2="694.00" stroke="#000" stroke-width="1.3" />
<line x1="170.10" y1="697.20" x2="179.90" y2="697.20" stroke="#000" stroke-width="1.3" />
<line x1="172.80" y1="736.50" x2="283.70" y2="736.50" stroke="#000" stroke-width="1.3" />
<rect x="175.55" y="733.65" width="10.95" height="2.85" fill="#fff" stroke="#000" stroke-width="1.3"/>
<rect x="187.15" y="733.00" width="12.25" height="3.50" fill="#000"/>
<line x1="193.28" y1="731.25" x2="193.28" y2="733.50" stroke="#000" stroke-width="1.2" />
<line x1="190.08" y1="731.85" x2="196.47" y2="731.85" stroke="#000" stroke-width="1.2" />
<rect x="202.85" y="663.65" width="10.95" height="72.85" fill="#fff" stroke="#000" stroke-width="1.3"/>
<rect x="214.45" y="664.25" width="12.25" height="72.25" fill="#000"/>
<line x1="220.57" y1="663.00" x2="220.57" y2="664.75" stroke="#000" stroke-width="1.2" />
<line x1="217.38" y1="663.60" x2="223.77" y2="663.60" stroke="#000" stroke-width="1.2" />
<rect x="229.65" y="725.15" width="10.95" height="11.35" fill="#fff" stroke="#000" stroke-width="1.3"/>
<line x1="235.12" y1="721.25" x2="235.12" y2="725.00" stroke="#000" stroke-width="1.2" />
<line x1="231.93" y1="721.85" x2="238.32" y2="721.85" stroke="#000" stroke-width="1.2" />
<rect x="241.25" y="720.50" width="12.25" height="16.00" fill="#000"/>
<line x1="247.38" y1="716.25" x2="247.38" y2="721.00" stroke="#000" stroke-width="1.2" />
<line x1="244.18" y1="716.85" x2="250.57" y2="716.85" stroke="#000" stroke-width="1.2" />
<rect x="256.75" y="734.90" width="10.95" height="1.60" fill="#fff" stroke="#000" stroke-width="1.3"/>
<rect x="268.35" y="735.00" width="12.25" height="1.50" fill="#000"/>
<rect x="201" y="690.20" width="27" height="3.20" fill="#fff"/>
<text transform="translate(184.70,749.50) scale(1.08,1)" font-size="10.4" text-anchor="middle" >DN</text>
<text transform="translate(212.50,749.50) scale(1.08,1)" font-size="10.4" text-anchor="middle" >DP</text>
<text transform="translate(240.10,749.50) scale(1.08,1)" font-size="10.4" text-anchor="middle" >CD4</text>
<text transform="translate(271.50,749.50) scale(1.08,1)" font-size="10.4" text-anchor="middle" >CD8</text>
<line x1="301.70" y1="653.30" x2="301.70" y2="733.90" stroke="#000" stroke-width="1.3" />
<line x1="298.50" y1="653.80" x2="301.70" y2="653.80" stroke="#000" stroke-width="1.3" />
<text transform="translate(295.75,657.10) scale(1.1,1)" font-size="10.2" text-anchor="end" >20</text>
<line x1="298.50" y1="673.80" x2="301.70" y2="673.80" stroke="#000" stroke-width="1.3" />
<text transform="translate(295.75,677.10) scale(1.1,1)" font-size="10.2" text-anchor="end" >15</text>
<line x1="298.50" y1="693.90" x2="301.70" y2="693.90" stroke="#000" stroke-width="1.3" />
<text transform="translate(295.75,697.20) scale(1.1,1)" font-size="10.2" text-anchor="end" >10</text>
<line x1="298.50" y1="714.00" x2="301.70" y2="714.00" stroke="#000" stroke-width="1.3" />
<text transform="translate(295.75,717.30) scale(1.1,1)" font-size="10.2" text-anchor="end" >5</text>
<line x1="298.50" y1="733.90" x2="301.70" y2="733.90" stroke="#000" stroke-width="1.3" />
<text transform="translate(295.75,737.20) scale(1.1,1)" font-size="10.2" text-anchor="end" >0</text>
<line x1="301.70" y1="733.90" x2="334.00" y2="733.90" stroke="#000" stroke-width="1.3" />
<rect x="304.75" y="696.15" width="11.05" height="37.75" fill="#fff" stroke="#000" stroke-width="1.3"/>
<line x1="310.28" y1="691.10" x2="310.28" y2="696.00" stroke="#000" stroke-width="1.2" />
<line x1="307.08" y1="691.70" x2="313.48" y2="691.70" stroke="#000" stroke-width="1.2" />
<rect x="316.45" y="697.20" width="12.35" height="36.70" fill="#000"/>
<line x1="322.62" y1="690.70" x2="322.62" y2="697.70" stroke="#000" stroke-width="1.2" />
<line x1="319.43" y1="691.30" x2="325.82" y2="691.30" stroke="#000" stroke-width="1.2" />
<text transform="translate(304.60,749.50) scale(1.08,1)" font-size="10.4" >TCR<tspan font-family="Liberation Serif" font-style="italic">&#945;</tspan><tspan font-family="Liberation Serif">&#946;</tspan><tspan font-size="7.2" dy="-4.5">hi</tspan></text>
<text x="232.00" y="12.50" font-size="17.7" font-weight="bold" >C</text>
<line x1="271.80" y1="44.90" x2="271.80" y2="125.50" stroke="#000" stroke-width="1.3" />
<line x1="268.60" y1="45.40" x2="271.80" y2="45.40" stroke="#000" stroke-width="1.3" />
<text transform="translate(265.85,48.25) scale(1.1,1)" font-size="10.2" text-anchor="end" >2.5</text>
<line x1="268.60" y1="61.40" x2="271.80" y2="61.40" stroke="#000" stroke-width="1.3" />
<text transform="translate(265.85,64.70) scale(1.1,1)" font-size="10.2" text-anchor="end" >2</text>
<line x1="268.60" y1="77.40" x2="271.80" y2="77.40" stroke="#000" stroke-width="1.3" />
<text transform="translate(265.85,80.70) scale(1.1,1)" font-size="10.2" text-anchor="end" >1.5</text>
<line x1="268.60" y1="93.40" x2="271.80" y2="93.40" stroke="#000" stroke-width="1.3" />
<text transform="translate(265.85,96.70) scale(1.1,1)" font-size="10.2" text-anchor="end" >1</text>
<line x1="268.60" y1="109.40" x2="271.80" y2="109.40" stroke="#000" stroke-width="1.3" />
<text transform="translate(265.85,112.05) scale(1.1,1)" font-size="10.2" text-anchor="end" >0.5</text>
<line x1="268.60" y1="125.40" x2="271.80" y2="125.40" stroke="#000" stroke-width="1.3" />
<text transform="translate(265.85,126.95) scale(1.1,1)" font-size="10.2" text-anchor="end" >0</text>
<line x1="502.60" y1="44.70" x2="502.60" y2="125.50" stroke="#000" stroke-width="1.3" />
<line x1="502.60" y1="45.20" x2="505.80" y2="45.20" stroke="#000" stroke-width="1.3" />
<text transform="translate(507.25,48.50) scale(1.1,1)" font-size="10.2" >30</text>
<line x1="502.60" y1="71.90" x2="505.80" y2="71.90" stroke="#000" stroke-width="1.3" />
<text transform="translate(507.25,75.20) scale(1.1,1)" font-size="10.2" >20</text>
<line x1="502.60" y1="98.40" x2="505.80" y2="98.40" stroke="#000" stroke-width="1.3" />
<text transform="translate(507.25,101.70) scale(1.1,1)" font-size="10.2" >10</text>
<line x1="502.60" y1="125.20" x2="505.80" y2="125.20" stroke="#000" stroke-width="1.3" />
<text transform="translate(507.25,128.50) scale(1.1,1)" font-size="10.2" >0</text>
<text x="275.30" y="56.50" font-size="14.3" font-weight="bold" >i</text>
<text transform="translate(244.3,84) rotate(-90)" font-size="11.3" text-anchor="middle">Cellularity x10<tspan font-size="7.5" dy="-4">6</tspan></text>
<rect x="274.75" y="119.75" width="11.05" height="5.75" fill="#fff" stroke="#000" stroke-width="1.3"/>
<line x1="280.28" y1="117.40" x2="280.28" y2="119.60" stroke="#000" stroke-width="1.2" />
<line x1="277.08" y1="118.00" x2="283.48" y2="118.00" stroke="#000" stroke-width="1.2" />
<rect x="286.45" y="123.80" width="12.35" height="1.70" fill="#000"/>
<rect x="301.35" y="66.85" width="11.05" height="58.65" fill="#fff" stroke="#000" stroke-width="1.3"/>
<line x1="306.88" y1="49.10" x2="306.88" y2="66.70" stroke="#000" stroke-width="1.2" />
<line x1="303.68" y1="49.70" x2="310.07" y2="49.70" stroke="#000" stroke-width="1.2" />
<rect x="313.05" y="101.90" width="12.35" height="23.60" fill="#000"/>
<line x1="319.23" y1="97.60" x2="319.23" y2="102.40" stroke="#000" stroke-width="1.2" />
<line x1="316.03" y1="98.20" x2="322.43" y2="98.20" stroke="#000" stroke-width="1.2" />
<rect x="334.75" y="94.65" width="11.05" height="30.85" fill="#fff" stroke="#000" stroke-width="1.3"/>
<line x1="340.28" y1="84.10" x2="340.28" y2="94.50" stroke="#000" stroke-width="1.2" />
<line x1="337.08" y1="84.70" x2="343.48" y2="84.70" stroke="#000" stroke-width="1.2" />
<rect x="346.45" y="112.50" width="12.35" height="13.00" fill="#000"/>
<line x1="352.62" y1="110.40" x2="352.62" y2="113.00" stroke="#000" stroke-width="1.2" />
<line x1="349.43" y1="111.00" x2="355.82" y2="111.00" stroke="#000" stroke-width="1.2" />
<rect x="361.85" y="111.25" width="11.05" height="14.25" fill="#fff" stroke="#000" stroke-width="1.3"/>
<line x1="367.38" y1="108.10" x2="367.38" y2="111.10" stroke="#000" stroke-width="1.2" />
<line x1="364.18" y1="108.70" x2="370.57" y2="108.70" stroke="#000" stroke-width="1.2" />
<rect x="373.55" y="118.80" width="12.35" height="6.70" fill="#000"/>
<rect x="391.55" y="86.85" width="11.05" height="38.65" fill="#fff" stroke="#000" stroke-width="1.3"/>
<rect x="403.25" y="106.70" width="12.35" height="18.80" fill="#000"/>
<line x1="409.42" y1="104.20" x2="409.42" y2="107.20" stroke="#000" stroke-width="1.2" />
<line x1="406.22" y1="104.80" x2="412.62" y2="104.80" stroke="#000" stroke-width="1.2" />
<rect x="418.85" y="105.95" width="11.05" height="19.55" fill="#fff" stroke="#000" stroke-width="1.3"/>
<line x1="424.38" y1="102.40" x2="424.38" y2="105.80" stroke="#000" stroke-width="1.2" />
<line x1="421.18" y1="103.00" x2="427.57" y2="103.00" stroke="#000" stroke-width="1.2" />
<rect x="430.55" y="116.30" width="12.35" height="9.20" fill="#000"/>
<line x1="436.73" y1="113.40" x2="436.73" y2="116.80" stroke="#000" stroke-width="1.2" />
<line x1="433.53" y1="114.00" x2="439.93" y2="114.00" stroke="#000" stroke-width="1.2" />
<rect x="449.35" y="73.35" width="11.05" height="52.15" fill="#fff" stroke="#000" stroke-width="1.3"/>
<line x1="454.88" y1="58.80" x2="454.88" y2="73.20" stroke="#000" stroke-width="1.2" />
<line x1="451.68" y1="59.40" x2="458.07" y2="59.40" stroke="#000" stroke-width="1.2" />
<rect x="461.05" y="91.20" width="12.35" height="34.30" fill="#000"/>
<line x1="467.23" y1="85.00" x2="467.23" y2="91.70" stroke="#000" stroke-width="1.2" />
<line x1="464.03" y1="85.60" x2="470.43" y2="85.60" stroke="#000" stroke-width="1.2" />
<rect x="477.05" y="103.85" width="11.05" height="21.65" fill="#fff" stroke="#000" stroke-width="1.3"/>
<line x1="482.57" y1="97.00" x2="482.57" y2="103.70" stroke="#000" stroke-width="1.2" />
<line x1="479.38" y1="97.60" x2="485.77" y2="97.60" stroke="#000" stroke-width="1.2" />
<rect x="488.75" y="112.70" width="12.35" height="12.80" fill="#000"/>
<line x1="494.92" y1="110.40" x2="494.92" y2="113.20" stroke="#000" stroke-width="1.2" />
<line x1="491.72" y1="111.00" x2="498.12" y2="111.00" stroke="#000" stroke-width="1.2" />
<text x="283.53" y="111.51" font-size="8.6" text-anchor="middle" font-weight="bold" letter-spacing="0.85">*</text>
<text x="316.73" y="47.01" font-size="8.6" text-anchor="middle" font-weight="bold" letter-spacing="0.85">**</text>
<text x="350.68" y="78.31" font-size="8.6" text-anchor="middle" font-weight="bold" letter-spacing="0.85">*</text>
<text x="373.73" y="104.91" font-size="8.6" text-anchor="middle" font-weight="bold" letter-spacing="0.85">**</text>
<text x="405.03" y="76.91" font-size="8.6" text-anchor="middle" font-weight="bold" letter-spacing="0.85">****</text>
<text x="434.23" y="97.71" font-size="8.6" text-anchor="middle" font-weight="bold" letter-spacing="0.85">***</text>
<text x="459.23" y="50.31" font-size="8.6" text-anchor="middle" font-weight="bold" letter-spacing="0.85">*</text>
<text x="492.73" y="98.11" font-size="8.6" text-anchor="middle" font-weight="bold" letter-spacing="0.85">*</text>
<line x1="271.50" y1="125.50" x2="503.00" y2="125.50" stroke="#000" stroke-width="1.3" />
<text transform="translate(286.20,138.30) scale(1.08,1)" font-size="10.4" text-anchor="middle" >CD4</text>
<text transform="translate(312.80,138.30) scale(1.08,1)" font-size="10.4" text-anchor="middle" >CD4</text>
<text transform="translate(346.30,138.30) scale(1.08,1)" font-size="10.4" text-anchor="middle" >CD4</text>
<text transform="translate(373.40,138.30) scale(1.08,1)" font-size="10.4" text-anchor="middle" >CD8</text>
<text transform="translate(403.10,138.30) scale(1.08,1)" font-size="10.4" text-anchor="middle" >CD4</text>
<text transform="translate(430.40,138.30) scale(1.08,1)" font-size="10.4" text-anchor="middle" >CD8</text>
<text transform="translate(460.90,138.30) scale(1.08,1)" font-size="10.4" text-anchor="middle" >CD4</text>
<text transform="translate(488.60,138.30) scale(1.08,1)" font-size="10.4" text-anchor="middle" >CD8</text>
<text transform="translate(276.50,153.50) scale(1.08,1)" font-size="10.4" >neo-</text>
<text transform="translate(276.50,166.60) scale(1.08,1)" font-size="10.4" >nate</text>
<text transform="translate(312.60,153.50) scale(1.08,1)" font-size="10.4" text-anchor="middle" >1.5</text>
<text transform="translate(358.50,153.50) scale(1.08,1)" font-size="10.4" text-anchor="middle" >7</text>
<text transform="translate(418.20,153.50) scale(1.08,1)" font-size="10.4" text-anchor="middle" >12</text>
<text transform="translate(478.90,153.50) scale(1.08,1)" font-size="10.4" text-anchor="middle" >16</text>
<line x1="302.50" y1="149.20" x2="302.50" y2="156.00" stroke="#000" stroke-width="1.3" />
<line x1="302.50" y1="156.00" x2="488.60" y2="156.00" stroke="#000" stroke-width="1.3" />
<line x1="488.60" y1="149.20" x2="488.60" y2="156.00" stroke="#000" stroke-width="1.3" />
<text transform="translate(390.50,169.90) scale(1.12,1)" font-size="10.2" text-anchor="middle" >weeks of age</text>
<line x1="329.60" y1="42.40" x2="329.60" y2="139.50" stroke="#999" stroke-width="1.1" />
<line x1="329.60" y1="42.40" x2="329.60" y2="139.50" stroke="#444" stroke-width="1.1" stroke-dasharray="7.5,5"/>
<line x1="271.80" y1="181.20" x2="271.80" y2="261.70" stroke="#000" stroke-width="1.3" />
<line x1="268.60" y1="181.70" x2="271.80" y2="181.70" stroke="#000" stroke-width="1.3" />
<text transform="translate(265.85,185.00) scale(1.1,1)" font-size="10.2" text-anchor="end" >10</text>
<line x1="268.60" y1="197.70" x2="271.80" y2="197.70" stroke="#000" stroke-width="1.3" />
<text transform="translate(265.85,201.00) scale(1.1,1)" font-size="10.2" text-anchor="end" >8</text>
<line x1="268.60" y1="213.70" x2="271.80" y2="213.70" stroke="#000" stroke-width="1.3" />
<text transform="translate(265.85,217.00) scale(1.1,1)" font-size="10.2" text-anchor="end" >6</text>
<line x1="268.60" y1="229.70" x2="271.80" y2="229.70" stroke="#000" stroke-width="1.3" />
<text transform="translate(265.85,233.00) scale(1.1,1)" font-size="10.2" text-anchor="end" >4</text>
<line x1="268.60" y1="245.70" x2="271.80" y2="245.70" stroke="#000" stroke-width="1.3" />
<text transform="translate(265.85,249.00) scale(1.1,1)" font-size="10.2" text-anchor="end" >2</text>
<line x1="268.60" y1="261.70" x2="271.80" y2="261.70" stroke="#000" stroke-width="1.3" />
<text transform="translate(265.85,265.00) scale(1.1,1)" font-size="10.2" text-anchor="end" >0</text>
<line x1="502.80" y1="181.40" x2="502.80" y2="261.70" stroke="#000" stroke-width="1.3" />
<line x1="502.80" y1="181.90" x2="506.00" y2="181.90" stroke="#000" stroke-width="1.3" />
<text transform="translate(507.45,185.20) scale(1.1,1)" font-size="10.2" >40</text>
<line x1="502.80" y1="201.90" x2="506.00" y2="201.90" stroke="#000" stroke-width="1.3" />
<text transform="translate(507.45,205.20) scale(1.1,1)" font-size="10.2" >30</text>
<line x1="502.80" y1="221.90" x2="506.00" y2="221.90" stroke="#000" stroke-width="1.3" />
<text transform="translate(507.45,225.20) scale(1.1,1)" font-size="10.2" >20</text>
<line x1="502.80" y1="241.90" x2="506.00" y2="241.90" stroke="#000" stroke-width="1.3" />
<text transform="translate(507.45,245.20) scale(1.1,1)" font-size="10.2" >10</text>
<line x1="502.80" y1="261.70" x2="506.00" y2="261.70" stroke="#000" stroke-width="1.3" />
<text transform="translate(507.45,265.00) scale(1.1,1)" font-size="10.2" >0</text>
<text x="275.30" y="191.80" font-size="14.3" font-weight="bold" >ii</text>
<text transform="translate(248.9,216.6) rotate(-90)" font-size="11.1" text-anchor="middle">Frequency %</text>
<rect x="274.75" y="255.05" width="11.05" height="6.65" fill="#fff" stroke="#000" stroke-width="1.3"/>
<line x1="280.28" y1="252.00" x2="280.28" y2="254.90" stroke="#000" stroke-width="1.2" />
<line x1="277.08" y1="252.60" x2="283.48" y2="252.60" stroke="#000" stroke-width="1.2" />
<rect x="286.45" y="259.50" width="12.35" height="2.20" fill="#000"/>
<rect x="301.35" y="227.05" width="11.05" height="34.65" fill="#fff" stroke="#000" stroke-width="1.3"/>
<line x1="306.88" y1="218.70" x2="306.88" y2="226.90" stroke="#000" stroke-width="1.2" />
<line x1="303.68" y1="219.30" x2="310.07" y2="219.30" stroke="#000" stroke-width="1.2" />
<rect x="313.05" y="248.40" width="12.35" height="13.30" fill="#000"/>
<line x1="319.23" y1="245.40" x2="319.23" y2="248.90" stroke="#000" stroke-width="1.2" />
<line x1="316.03" y1="246.00" x2="322.43" y2="246.00" stroke="#000" stroke-width="1.2" />
<rect x="334.75" y="206.85" width="11.05" height="54.85" fill="#fff" stroke="#000" stroke-width="1.3"/>
<line x1="340.28" y1="200.00" x2="340.28" y2="206.70" stroke="#000" stroke-width="1.2" />
<line x1="337.08" y1="200.60" x2="343.48" y2="200.60" stroke="#000" stroke-width="1.2" />
<rect x="346.45" y="235.00" width="12.35" height="26.70" fill="#000"/>
<line x1="352.62" y1="231.50" x2="352.62" y2="235.50" stroke="#000" stroke-width="1.2" />
<line x1="349.43" y1="232.10" x2="355.82" y2="232.10" stroke="#000" stroke-width="1.2" />
<rect x="361.85" y="235.25" width="11.05" height="26.45" fill="#fff" stroke="#000" stroke-width="1.3"/>
<line x1="367.38" y1="232.50" x2="367.38" y2="235.10" stroke="#000" stroke-width="1.2" />
<line x1="364.18" y1="233.10" x2="370.57" y2="233.10" stroke="#000" stroke-width="1.2" />
<rect x="373.55" y="248.40" width="12.35" height="13.30" fill="#000"/>
<rect x="391.55" y="204.45" width="11.05" height="57.25" fill="#fff" stroke="#000" stroke-width="1.3"/>
<line x1="397.07" y1="200.90" x2="397.07" y2="204.30" stroke="#000" stroke-width="1.2" />
<line x1="393.88" y1="201.50" x2="400.27" y2="201.50" stroke="#000" stroke-width="1.2" />
<rect x="403.25" y="229.80" width="12.35" height="31.90" fill="#000"/>
<line x1="409.42" y1="224.60" x2="409.42" y2="230.30" stroke="#000" stroke-width="1.2" />
<line x1="406.22" y1="225.20" x2="412.62" y2="225.20" stroke="#000" stroke-width="1.2" />
<rect x="418.85" y="232.15" width="11.05" height="29.55" fill="#fff" stroke="#000" stroke-width="1.3"/>
<line x1="424.38" y1="226.20" x2="424.38" y2="232.00" stroke="#000" stroke-width="1.2" />
<line x1="421.18" y1="226.80" x2="427.57" y2="226.80" stroke="#000" stroke-width="1.2" />
<rect x="430.55" y="246.20" width="12.35" height="15.50" fill="#000"/>
<line x1="436.73" y1="241.50" x2="436.73" y2="246.70" stroke="#000" stroke-width="1.2" />
<line x1="433.53" y1="242.10" x2="439.93" y2="242.10" stroke="#000" stroke-width="1.2" />
<rect x="449.35" y="213.85" width="11.05" height="47.85" fill="#fff" stroke="#000" stroke-width="1.3"/>
<line x1="454.88" y1="207.30" x2="454.88" y2="213.70" stroke="#000" stroke-width="1.2" />
<line x1="451.68" y1="207.90" x2="458.07" y2="207.90" stroke="#000" stroke-width="1.2" />
<rect x="461.05" y="224.20" width="12.35" height="37.50" fill="#000"/>
<line x1="467.23" y1="221.50" x2="467.23" y2="224.70" stroke="#000" stroke-width="1.2" />
<line x1="464.03" y1="222.10" x2="470.43" y2="222.10" stroke="#000" stroke-width="1.2" />
<rect x="477.05" y="242.15" width="11.05" height="19.55" fill="#fff" stroke="#000" stroke-width="1.3"/>
<line x1="482.57" y1="237.30" x2="482.57" y2="242.00" stroke="#000" stroke-width="1.2" />
<line x1="479.38" y1="237.90" x2="485.77" y2="237.90" stroke="#000" stroke-width="1.2" />
<rect x="488.75" y="247.00" width="12.35" height="14.70" fill="#000"/>
<line x1="494.92" y1="245.50" x2="494.92" y2="247.50" stroke="#000" stroke-width="1.2" />
<line x1="491.72" y1="246.10" x2="498.12" y2="246.10" stroke="#000" stroke-width="1.2" />
<text x="283.63" y="246.51" font-size="8.6" text-anchor="middle" font-weight="bold" letter-spacing="0.85">*</text>
<text x="315.43" y="212.61" font-size="8.6" text-anchor="middle" font-weight="bold" letter-spacing="0.85">***</text>
<text x="353.53" y="193.21" font-size="8.6" text-anchor="middle" font-weight="bold" letter-spacing="0.85">***</text>
<text x="377.83" y="225.46" font-size="8.6" text-anchor="middle" font-weight="bold" letter-spacing="0.85">****</text>
<text x="404.83" y="193.21" font-size="8.6" text-anchor="middle" font-weight="bold" letter-spacing="0.85">****</text>
<text x="432.33" y="220.21" font-size="8.6" text-anchor="middle" font-weight="bold" letter-spacing="0.85">*</text>
<text x="459.33" y="200.41" font-size="8.6" text-anchor="middle" font-weight="bold" letter-spacing="0.85">*</text>
<text x="486.23" y="233.41" font-size="8.6" text-anchor="middle" font-weight="bold" letter-spacing="0.85">*</text>
<line x1="271.50" y1="261.70" x2="503.00" y2="261.70" stroke="#000" stroke-width="1.3" />
<text transform="translate(286.20,274.40) scale(1.08,1)" font-size="10.4" text-anchor="middle" >CD4</text>
<text transform="translate(312.80,274.40) scale(1.08,1)" font-size="10.4" text-anchor="middle" >CD4</text>
<text transform="translate(346.30,274.40) scale(1.08,1)" font-size="10.4" text-anchor="middle" >CD4</text>
<text transform="translate(373.40,274.40) scale(1.08,1)" font-size="10.4" text-anchor="middle" >CD8</text>
<text transform="translate(403.10,274.40) scale(1.08,1)" font-size="10.4" text-anchor="middle" >CD4</text>
<text transform="translate(430.40,274.40) scale(1.08,1)" font-size="10.4" text-anchor="middle" >CD8</text>
<text transform="translate(460.90,274.40) scale(1.08,1)" font-size="10.4" text-anchor="middle" >CD4</text>
<text transform="translate(488.60,274.40) scale(1.08,1)" font-size="10.4" text-anchor="middle" >CD8</text>
<text transform="translate(276.50,288.80) scale(1.08,1)" font-size="10.4" >neo-</text>
<text transform="translate(276.50,301.70) scale(1.08,1)" font-size="10.4" >nate</text>
<text transform="translate(312.60,288.80) scale(1.08,1)" font-size="10.4" text-anchor="middle" >1.5</text>
<text transform="translate(358.50,288.80) scale(1.08,1)" font-size="10.4" text-anchor="middle" >7</text>
<text transform="translate(418.20,288.80) scale(1.08,1)" font-size="10.4" text-anchor="middle" >12</text>
<text transform="translate(478.90,288.80) scale(1.08,1)" font-size="10.4" text-anchor="middle" >16</text>
<line x1="302.50" y1="284.00" x2="302.50" y2="290.80" stroke="#000" stroke-width="1.3" />
<line x1="302.50" y1="290.80" x2="488.60" y2="290.80" stroke="#000" stroke-width="1.3" />
<line x1="488.60" y1="284.00" x2="488.60" y2="290.80" stroke="#000" stroke-width="1.3" />
<text transform="translate(390.50,304.40) scale(1.12,1)" font-size="10.2" text-anchor="middle" >weeks of age</text>
<line x1="329.60" y1="180.20" x2="329.60" y2="278.30" stroke="#999" stroke-width="1.1" />
<line x1="329.60" y1="180.20" x2="329.60" y2="278.30" stroke="#444" stroke-width="1.1" stroke-dasharray="7.5,5"/>
</svg>
</body></html>
